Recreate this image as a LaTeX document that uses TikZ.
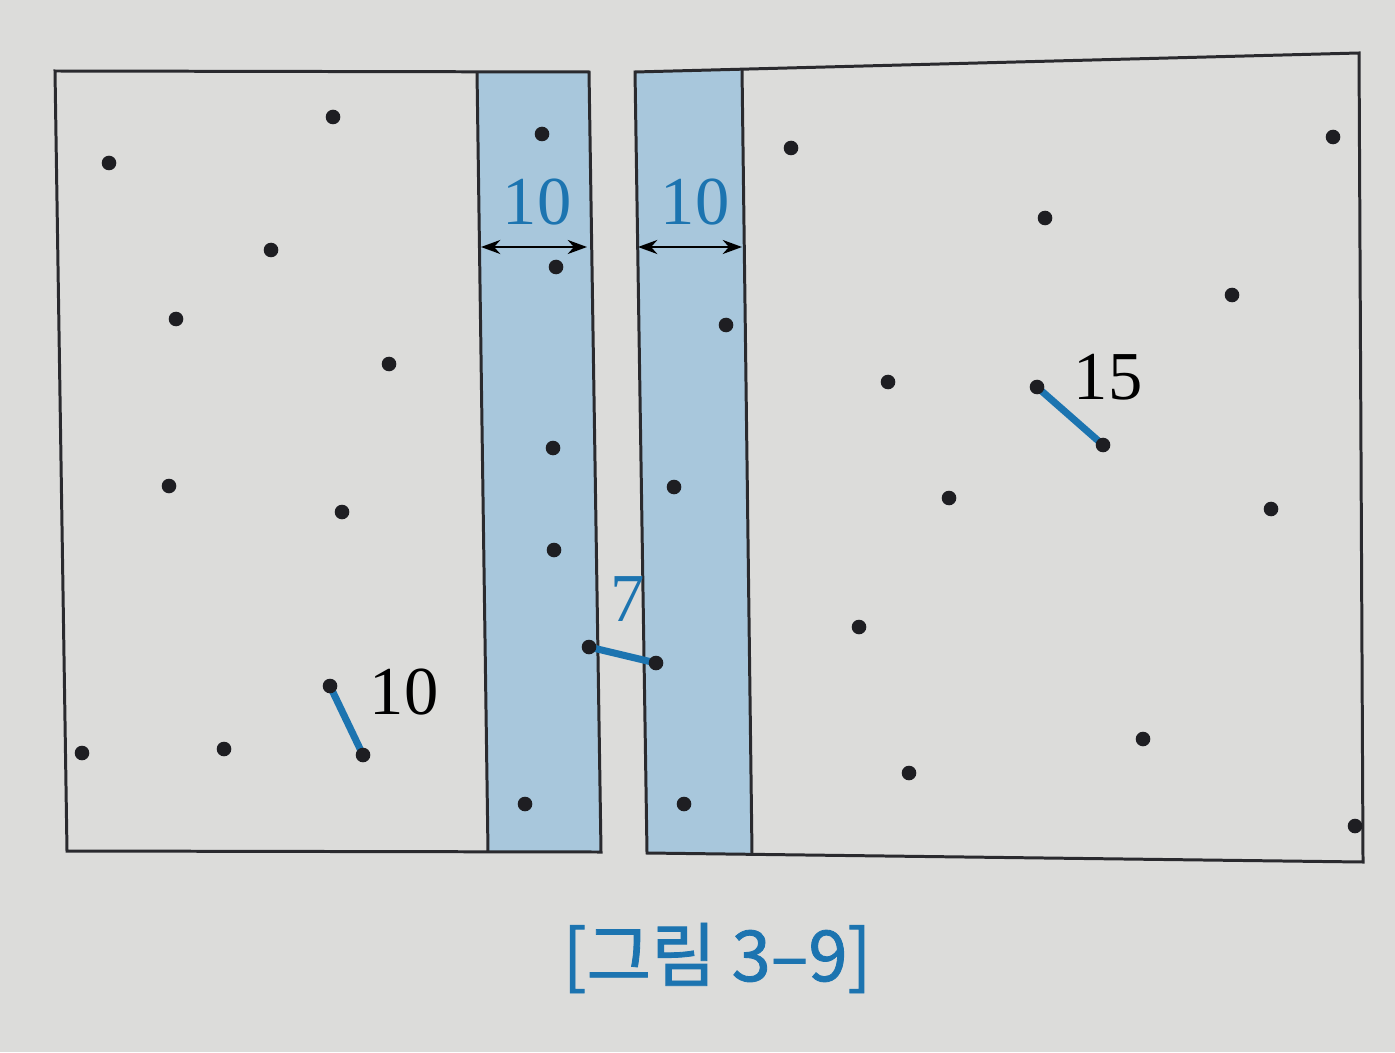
\documentclass[tikz,border=0pt]{standalone}
\usepackage{fontspec}
\setmainfont{Liberation Serif}
\newfontfamily\krfont[FakeBold=1.2]{Noto Sans CJK KR}
\usetikzlibrary{arrows.meta}
\definecolor{bg}{HTML}{DCDCDA}
\definecolor{strip}{HTML}{A8C7DC}
\definecolor{myblue}{HTML}{1C74B0}
\definecolor{dotc}{HTML}{1E1E22}
\definecolor{edge}{HTML}{2A2A2E}
\tikzset{
  boxline/.style={draw=edge, line width=0.85pt, line join=miter},
  stripfill/.style={fill=strip},
  pair/.style={draw=myblue, line width=2pt, line cap=round},
  dimline/.style={draw=black, line width=0.6pt, {Stealth[length=5.5pt,width=4pt]}-{Stealth[length=5.5pt,width=4pt]}},
  numlbl/.style={font=\fontsize{19.5}{20}\selectfont, inner sep=0pt},
  bluelbl/.style={numlbl, text=myblue},
  caption/.style={font=\krfont\fontsize{20}{22}\selectfont, text=myblue, inner sep=0pt},
}
\newcommand{\dotat}[1]{\fill[dotc] (#1) circle (7.3);}
\begin{document}
\begin{tikzpicture}[x=0.01cm,y=-0.01cm]
\path[use as bounding box, fill=bg] (0,0) rectangle (1395,1052);
% box corners
\coordinate (LA) at (55,71);
\coordinate (LB) at (589,72);
\coordinate (LC) at (601,852);
\coordinate (LD) at (67,851);
\coordinate (LS1) at (477,72);
\coordinate (LS2) at (488,852);
\coordinate (RA) at (635,72);
\coordinate (RB) at (1359,53);
\coordinate (RC) at (1363,862);
\coordinate (RD) at (647,853);
\coordinate (RS1) at (742,69.2);
\coordinate (RS2) at (752,854.3);
% strips
\path[stripfill] (LS1) -- (LB) -- (LC) -- (LS2) -- cycle;
\path[stripfill] (RA) -- (RS1) -- (RS2) -- (RD) -- cycle;
% outlines
\draw[boxline] (LA) -- (LB) -- (LC) -- (LD) -- cycle;
\draw[boxline] (LS1) -- (LS2);
\draw[boxline] (RA) -- (RB) -- (RC) -- (RD) -- cycle;
\draw[boxline] (RS1) -- (RS2);
% dimension arrows
\coordinate (dl1) at (481,247);
\coordinate (dl2) at (587,247);
\coordinate (dr1) at (638,247);
\coordinate (dr2) at (742,247);
\draw[dimline] (dl1) -- (dl2);
\draw[dimline] (dr1) -- (dr2);
\node[bluelbl] (wl) at (537,202) {10};
\node[bluelbl] (wr) at (695,202) {10};
% points
\coordinate (p1) at (333,117);
\coordinate (p2) at (109,163);
\coordinate (p3) at (271,250);
\coordinate (p4) at (176,319);
\coordinate (p5) at (389,364);
\coordinate (p6) at (169,486);
\coordinate (p7) at (342,512);
\coordinate (p8) at (82,753);
\coordinate (p9) at (224,749);
\coordinate (p10) at (330,686);
\coordinate (p11) at (363,755);
\coordinate (s1) at (542,134);
\coordinate (s2) at (556,267);
\coordinate (s3) at (553,448);
\coordinate (s4) at (554,550);
\coordinate (s5) at (589,647);
\coordinate (s6) at (525,804);
\coordinate (t1) at (726,325);
\coordinate (t2) at (674,487);
\coordinate (t3) at (656,663);
\coordinate (t4) at (684,804);
\coordinate (q1) at (791,148);
\coordinate (q2) at (1333,137);
\coordinate (q3) at (1045,218);
\coordinate (q4) at (1232,295);
\coordinate (q5) at (888,382);
\coordinate (q6) at (1037,387);
\coordinate (q7) at (1103,445);
\coordinate (q8) at (949,498);
\coordinate (q9) at (1271,509);
\coordinate (q10) at (859,627);
\coordinate (q11) at (1143,739);
\coordinate (q12) at (909,773);
\coordinate (q13) at (1355,826);
% closest pairs
\draw[pair] (p10) -- (p11);
\draw[pair] (s5) -- (t3);
\draw[pair] (q6) -- (q7);
\foreach \p in {p1,p2,p3,p4,p5,p6,p7,p8,p9,p10,p11,s1,s2,s3,s4,s5,s6,t1,t2,t3,t4,q1,q2,q3,q4,q5,q6,q7,q8,q9,q10,q11,q12,q13}{\dotat{\p}}
% labels
\node[numlbl] (d1) at (404,692) {10};
\node[bluelbl] (d2) at (628,599) {7};
\node[numlbl] (d3) at (1108,377) {15};
\node[caption] (cap) at (717,958) {[그림 3–9]};
\end{tikzpicture}
\end{document}
